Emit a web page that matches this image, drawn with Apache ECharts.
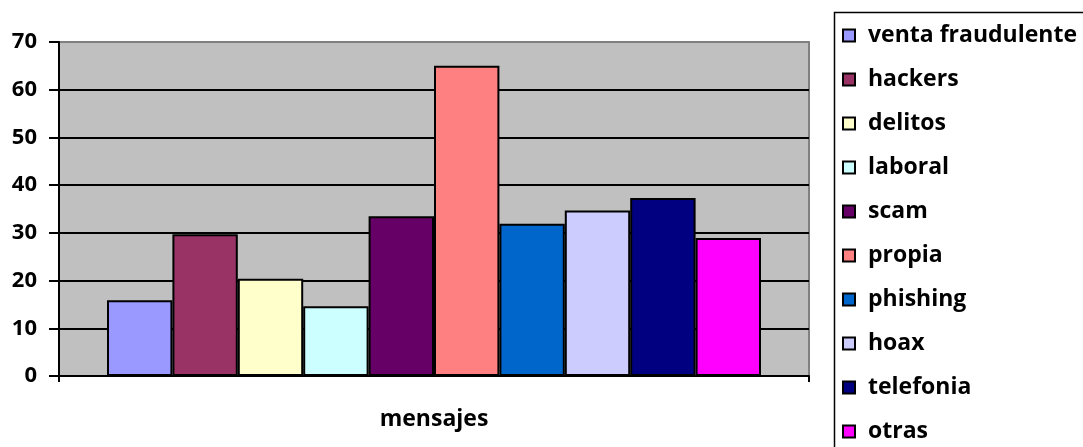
<!DOCTYPE html>
<html>
<head>
<meta charset="utf-8">
<script src="https://cdn.jsdelivr.net/npm/echarts@6/dist/echarts.min.js"></script>
<style>html,body{margin:0;padding:0;background:#fff}#c{width:1083px;height:447px}</style>
</head>
<body>
<div id="c"></div>
<script>
const categories = ['mensajes'];
const seriesNames = ['venta fraudulente','hackers','delitos','laboral','scam','propia','phishing','hoax','telefonia','otras'];
const seriesValues = [15.9, 29.7, 20.4, 14.6, 33.5, 65.0, 31.9, 34.7, 37.3, 28.9];
const seriesColors = ['#9999FF','#993366','#FFFFCC','#CCFFFF','#660066','#FF8080','#0066CC','#CCCCFF','#000080','#FF00FF'];
const yTicks = [0,10,20,30,40,50,60,70];

const FONT = 'Open Sans';
const chart = echarts.init(document.getElementById('c'), null, {renderer:'canvas'});
chart.setOption({
  animation: false,
  textStyle: {fontFamily: FONT},
  grid: {left: 59, right: 274, top: 42, bottom: 71, show: true, backgroundColor: '#C0C0C0', borderColor: '#808080', borderWidth: 2},
  graphic: [{
    type: 'rect', left: 832, top: 10, z: 0,
    shape: {x: 0, y: 0, width: 300, height: 500},
    style: {fill: 'none', stroke: '#000', lineWidth: 1.5}
  }],
  legend: {
    orient: 'vertical', left: 842, top: 24, height: 430,
    padding: 0,
    itemGap: 21, itemWidth: 12, itemHeight: 12, icon: 'rect',
    textStyle: {fontFamily: FONT, fontWeight: 'bold', fontSize: 23, lineHeight: 23, color: '#000', padding: [0,0,0,8]},
    data: seriesNames
  },
  xAxis: {
    type: 'category', data: categories,
    axisLine: {lineStyle: {color: '#000', width: 2}},
    axisTick: {show: true, length: 6, lineStyle: {color: '#000', width: 2}},
    axisLabel: {margin: 32, fontFamily: FONT, fontWeight: 'bold', fontSize: 23, color: '#000'}
  },
  yAxis: {
    type: 'value', min: yTicks[0], max: yTicks[yTicks.length-1], interval: 10,
    axisLine: {show: true, lineStyle: {color: '#000', width: 2}},
    axisTick: {show: true, length: 10, lineStyle: {color: '#000', width: 2}},
    axisLabel: {margin: 22, fontFamily: FONT, fontWeight: 'bold', fontSize: 22, color: '#000'},
    splitLine: {show: true, lineStyle: {color: ['#000','#000','#000','#000','#000','#000','#000','#808080'], width: 2}}
  },
  series: seriesNames.map((n, i) => ({
    name: n, type: 'bar',
    data: [seriesValues[i]],
    barGap: '0%', barCategoryGap: '12.8%',
    itemStyle: {color: seriesColors[i], borderColor: '#000', borderWidth: 2}
  }))
});
</script>
</body>
</html>
